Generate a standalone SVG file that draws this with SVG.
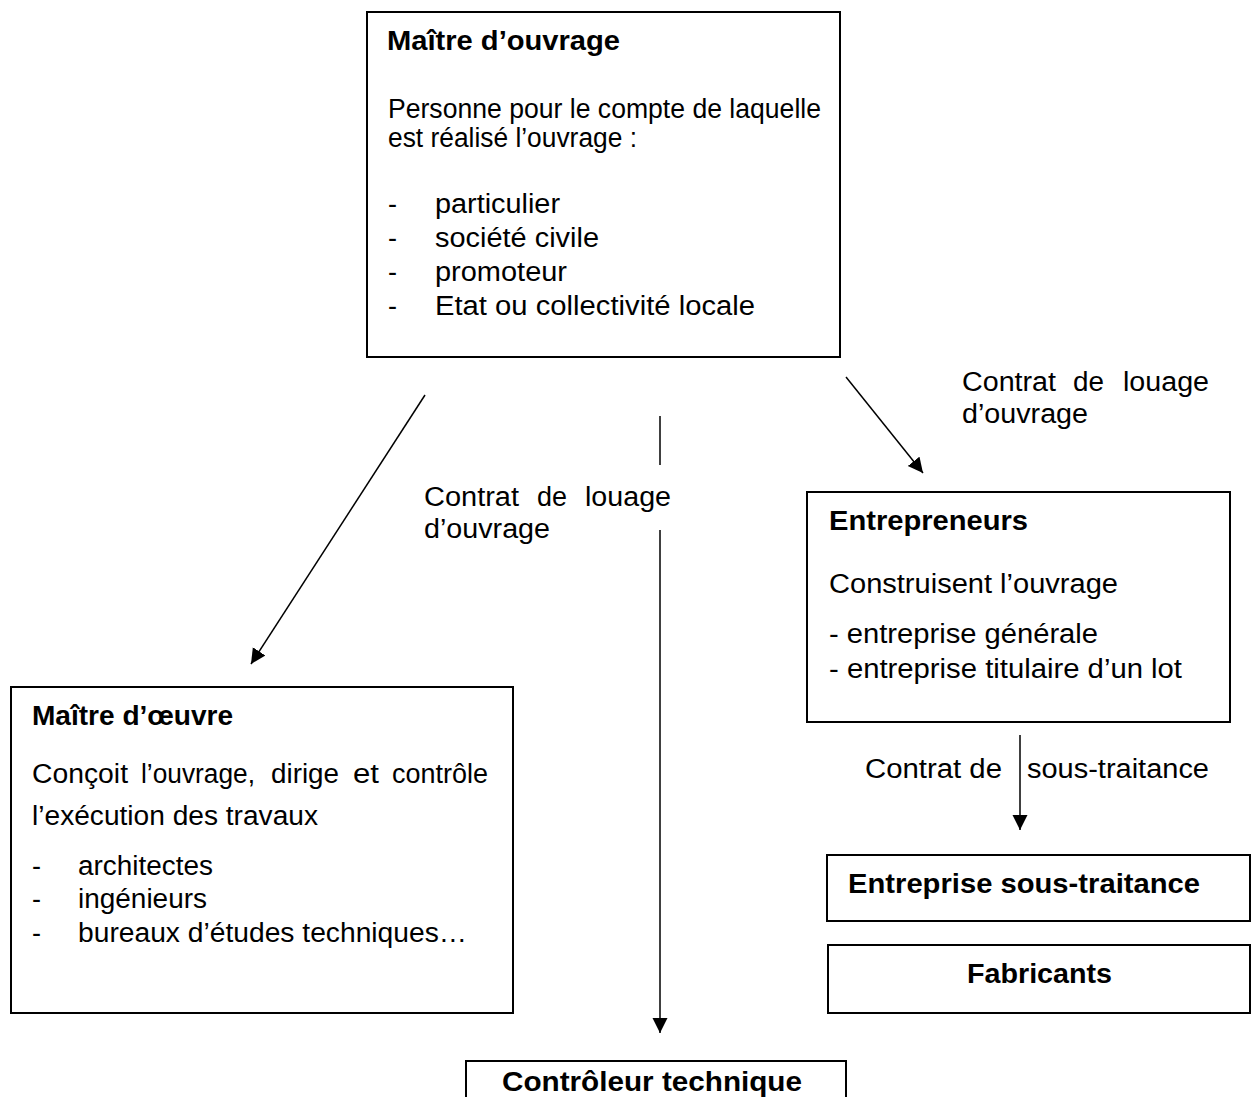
<svg xmlns="http://www.w3.org/2000/svg" width="1251" height="1097" viewBox="0 0 1251 1097">
<style>
  .box { fill: #ffffff; stroke: #000000; stroke-width: 2; }
  .t { font-family: "Liberation Sans", Arial, sans-serif; font-size: 27px; fill: #000000; }
  .b { font-family: "Liberation Sans", Arial, sans-serif; font-size: 28px; font-weight: bold; fill: #000000; }
  .line { stroke: #000000; stroke-width: 1.5; fill: none; }
</style>
<defs>
  <marker id="arr" markerUnits="userSpaceOnUse" markerWidth="16" markerHeight="16" refX="15" refY="7.5" orient="auto">
    <path d="M0,0 L15,7.5 L0,15 z" fill="#000000"/>
  </marker>
</defs>
<rect width="1251" height="1097" fill="#ffffff"/>

<g id="connectors">
  <line class="line" x1="425" y1="395" x2="251" y2="664" marker-end="url(#arr)"/>
  <line class="line" x1="660" y1="416" x2="660" y2="465"/>
  <line class="line" x1="660" y1="530" x2="660" y2="1033" marker-end="url(#arr)"/>
  <line class="line" x1="846" y1="377" x2="923" y2="473" marker-end="url(#arr)"/>
  <line class="line" x1="1020" y1="735" x2="1020" y2="830" marker-end="url(#arr)"/>
  <text class="t" x="424" y="506" textLength="95" lengthAdjust="spacingAndGlyphs">Contrat</text>
  <text class="t" x="537" y="506" textLength="30" lengthAdjust="spacingAndGlyphs">de</text>
  <text class="t" x="585" y="506" textLength="86" lengthAdjust="spacingAndGlyphs">louage</text>
  <text class="t" x="424" y="538" textLength="126" lengthAdjust="spacingAndGlyphs">d’ouvrage</text>
  <text class="t" x="962" y="391" textLength="94" lengthAdjust="spacingAndGlyphs">Contrat</text>
  <text class="t" x="1073" y="391" textLength="31" lengthAdjust="spacingAndGlyphs">de</text>
  <text class="t" x="1123" y="391" textLength="86" lengthAdjust="spacingAndGlyphs">louage</text>
  <text class="t" x="962" y="423" textLength="126" lengthAdjust="spacingAndGlyphs">d’ouvrage</text>
  <text class="t" x="865" y="778" textLength="137" lengthAdjust="spacingAndGlyphs">Contrat de</text>
  <text class="t" x="1027" y="778" textLength="182" lengthAdjust="spacingAndGlyphs">sous-traitance</text>
</g>

<g id="maitre-ouvrage">
  <rect class="box" x="367" y="12" width="473" height="345"/>
  <text class="b" x="387" y="50" textLength="233" lengthAdjust="spacingAndGlyphs">Maître d’ouvrage</text>
  <text class="t" x="388" y="118" textLength="433" lengthAdjust="spacingAndGlyphs">Personne pour le compte de laquelle</text>
  <text class="t" x="388" y="147" textLength="249" lengthAdjust="spacingAndGlyphs">est réalisé l’ouvrage :</text>
  <text class="t" x="388" y="213">-</text>
  <text class="t" x="435" y="213" textLength="125" lengthAdjust="spacingAndGlyphs">particulier</text>
  <text class="t" x="388" y="247">-</text>
  <text class="t" x="435" y="247" textLength="164" lengthAdjust="spacingAndGlyphs">société civile</text>
  <text class="t" x="388" y="281">-</text>
  <text class="t" x="435" y="281" textLength="132" lengthAdjust="spacingAndGlyphs">promoteur</text>
  <text class="t" x="388" y="315">-</text>
  <text class="t" x="435" y="315" textLength="320" lengthAdjust="spacingAndGlyphs">Etat ou collectivité locale</text>
</g>

<g id="maitre-oeuvre">
  <rect class="box" x="11" y="687" width="502" height="326"/>
  <text class="b" x="32" y="725" textLength="201" lengthAdjust="spacingAndGlyphs">Maître d’œuvre</text>
  <text class="t" x="32" y="783" textLength="96" lengthAdjust="spacingAndGlyphs">Conçoit</text>
  <text class="t" x="141" y="783" textLength="114" lengthAdjust="spacingAndGlyphs">l’ouvrage,</text>
  <text class="t" x="271" y="783" textLength="68" lengthAdjust="spacingAndGlyphs">dirige</text>
  <text class="t" x="353" y="783" textLength="26" lengthAdjust="spacingAndGlyphs">et</text>
  <text class="t" x="392" y="783" textLength="96" lengthAdjust="spacingAndGlyphs">contrôle</text>
  <text class="t" x="32" y="825" textLength="286" lengthAdjust="spacingAndGlyphs">l’exécution des travaux</text>
  <text class="t" x="32" y="875">-</text>
  <text class="t" x="78" y="875" textLength="135" lengthAdjust="spacingAndGlyphs">architectes</text>
  <text class="t" x="32" y="908">-</text>
  <text class="t" x="78" y="908" textLength="129" lengthAdjust="spacingAndGlyphs">ingénieurs</text>
  <text class="t" x="32" y="942">-</text>
  <text class="t" x="78" y="942" textLength="389" lengthAdjust="spacingAndGlyphs">bureaux d’études techniques…</text>
</g>

<g id="entrepreneurs">
  <rect class="box" x="807" y="492" width="423" height="230"/>
  <text class="b" x="829" y="530" textLength="199" lengthAdjust="spacingAndGlyphs">Entrepreneurs</text>
  <text class="t" x="829" y="593" textLength="289" lengthAdjust="spacingAndGlyphs">Construisent l’ouvrage</text>
  <text class="t" x="829" y="643" textLength="269" lengthAdjust="spacingAndGlyphs">- entreprise générale</text>
  <text class="t" x="829" y="678" textLength="353" lengthAdjust="spacingAndGlyphs">- entreprise titulaire d’un lot</text>
</g>

<g id="sous-traitance">
  <rect class="box" x="827" y="855" width="423" height="66"/>
  <text class="b" x="848" y="893" textLength="352" lengthAdjust="spacingAndGlyphs">Entreprise sous-traitance</text>
</g>

<g id="fabricants">
  <rect class="box" x="828" y="945" width="422" height="68"/>
  <text class="b" x="967" y="983" textLength="145" lengthAdjust="spacingAndGlyphs">Fabricants</text>
</g>

<g id="controleur">
  <rect class="box" x="466" y="1061" width="380" height="60"/>
  <text class="b" x="502" y="1091" textLength="300" lengthAdjust="spacingAndGlyphs">Contrôleur technique</text>
</g>
</svg>
